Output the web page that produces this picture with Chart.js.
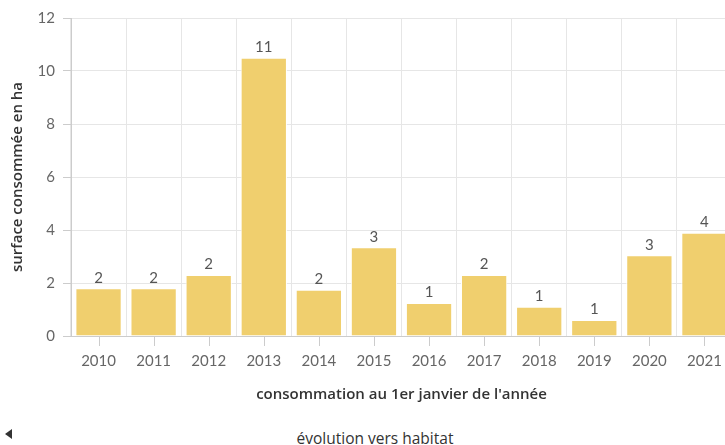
<!DOCTYPE html>
<html lang="fr">
<head>
<meta charset="UTF-8">
<title>Consommation d'espace</title>
<script src="https://cdn.jsdelivr.net/npm/chart.js"></script>
<style>
  body { margin: 0; overflow: hidden; background: #fff; font-family: Lato, sans-serif; }
  #chart { position: absolute; left: 0; top: 0; }
  #legend { position: absolute; left: 0; width: 750px; top: 427px; text-align: center;
            font: 15.5px "Open Sans", sans-serif; color: #333; }
  #arrow { position: absolute; left: 5px; top: 429px; width: 0; height: 0;
           border-top: 5px solid transparent; border-bottom: 5px solid transparent; border-right: 7px solid #333; }
</style>
</head>
<body>
<canvas id="chart" width="732" height="420"></canvas>
<div id="arrow"></div>
<div id="legend">évolution vers habitat</div>

<script>
  // data (ha)
  const years = ['2010', '2011', '2012', '2013', '2014', '2015', '2016', '2017', '2018', '2019', '2020', '2021'];
  const habitat = [1.8, 1.8, 2.3, 10.5, 1.75, 3.35, 1.25, 2.3, 1.1, 0.6, 3.05, 3.9];
  const seriesName = 'évolution vers habitat';

  const FONT = 'Lato, sans-serif';
  const TITLE_FONT = '"Open Sans", sans-serif';

  // rounded value above each bar
  const valueLabels = {
    id: 'valueLabels',
    afterDatasetsDraw(chart) {
      const ctx = chart.ctx;
      const meta = chart.getDatasetMeta(0);
      ctx.save();
      ctx.font = '15px ' + FONT;
      ctx.fillStyle = '#555';
      ctx.textAlign = 'center';
      ctx.textBaseline = 'bottom';
      meta.data.forEach((bar, i) => {
        ctx.fillText(Math.round(habitat[i]), bar.x, bar.y - 3);
      });
      ctx.restore();
    }
  };

  // x tick marks sit under the category centres
  const centreTicks = {
    id: 'centreTicks',
    afterDraw(chart) {
      const xs = chart.scales.x;
      const ctx = chart.ctx;
      ctx.save();
      ctx.strokeStyle = '#ccc';
      ctx.lineWidth = 1;
      years.forEach((y, i) => {
        const px = Math.round(xs.getPixelForValue(i)) + 0.5;
        ctx.beginPath();
        ctx.moveTo(px, xs.top);
        ctx.lineTo(px, xs.top + 10);
        ctx.stroke();
      });
      ctx.restore();
    }
  };

  new Chart(document.getElementById('chart'), {
    type: 'bar',
    data: {
      labels: years,
      datasets: [{
        label: seriesName,
        data: habitat,
        backgroundColor: '#f0cf6e',
        borderColor: '#fff',
        borderWidth: 1,
        categoryPercentage: 1,
        barPercentage: 0.84
      }]
    },
    options: {
      responsive: false,
      animation: false,
      layout: { padding: { top: 18, left: 0, right: 0, bottom: 0 } },
      plugins: { legend: { display: false }, tooltip: { enabled: false } },
      scales: {
        x: {
          grid: { color: '#e6e6e6', tickLength: 13, tickColor: 'rgba(0,0,0,0)' },
          border: { color: '#ccc' },
          ticks: { color: '#666', font: { family: FONT, size: 15 }, padding: 3, maxRotation: 0 },
          title: {
            display: true,
            text: "consommation au 1er janvier de l'année",
            color: '#333',
            font: { family: TITLE_FONT, size: 15, weight: '600' },
            padding: { top: 0, bottom: 16 }
          },
          afterFit(scale) { scale.height = 84; }
        },
        y: {
          min: 0,
          max: 12,
          ticks: { stepSize: 2, color: '#666', font: { family: FONT, size: 15 }, padding: 8 },
          grid: { color: '#e6e6e6', tickLength: 8, tickColor: '#ccc' },
          border: { color: '#ccc' },
          title: {
            display: true,
            text: 'surface consommée en ha',
            color: '#333',
            font: { family: TITLE_FONT, size: 15, weight: '600' },
            padding: { top: 9, bottom: 0 }
          },
          afterFit(scale) { scale.width = 71; }
        }
      }
    },
    plugins: [valueLabels, centreTicks]
  });
</script>
</body>
</html>
